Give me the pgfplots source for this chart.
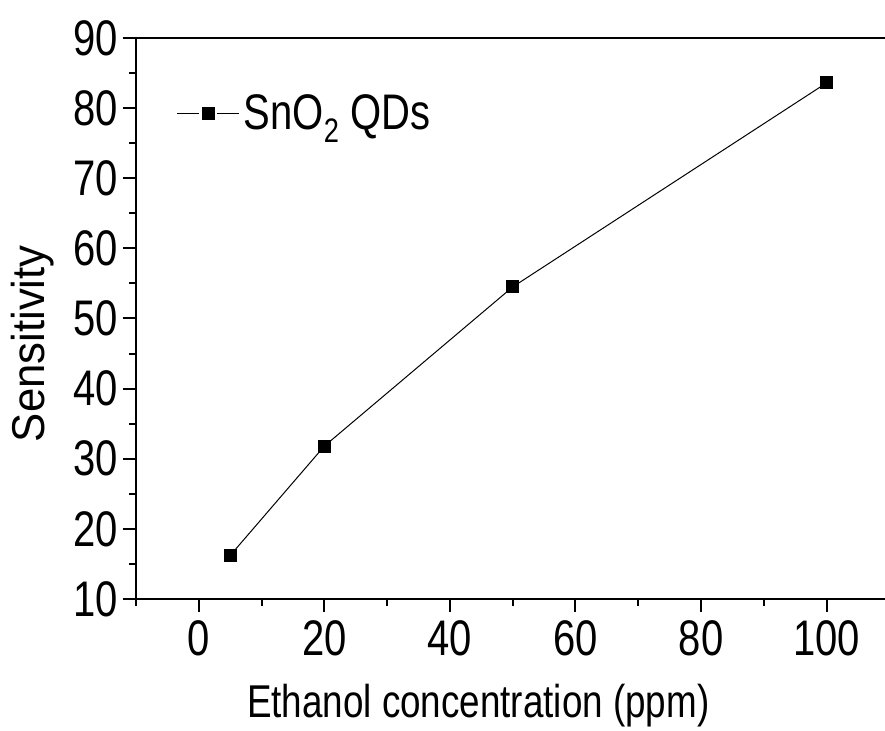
\documentclass[border=0pt]{standalone}
\usepackage{fontspec}
\setmainfont{Liberation Sans}[FakeStretch=0.8]
\newfontfamily\yfont{Liberation Sans}[FakeStretch=0.95]
\usepackage{pgfplots}
\pgfplotsset{compat=1.18}
\newcommand\bigfont{\fontsize{25}{29}\selectfont}
\begin{document}
\begin{tikzpicture}
\begin{axis}[
  clip mode=individual,
  scale only axis, width=374.5pt, height=280.5pt,
  xmin=-10, xmax=109.3, ymin=10, ymax=90,
  axis x line=box, axis y line=left,
  axis line style={-, line width=1pt},
  xtick={0,20,...,100}, ytick={10,20,...,90},
  minor xtick={-10,10,30,50,70,90},
  minor ytick={15,25,...,85},
  tick align=outside, xtick pos=left, ytick pos=left,
  major tick length=6.5pt, minor tick length=3.5pt,
  every tick/.style={black, line width=1pt},
  tick label style={font=\bigfont},
  /pgf/number format/assume math mode=true,
  yticklabel style={inner sep=2.5pt},
  xticklabel style={inner sep=4pt},
  legend style={draw=none, fill=none, font=\bigfont,
    at={(rel axis cs:0.054,0.866)}, anchor=west, inner sep=0pt,
    /tikz/every even column/.append style={column sep=2pt}},
  legend cell align=left,
  legend image code/.code={%
    \draw[#1] (0pt,0pt) -- (11pt,0pt);
    \draw[#1] (20pt,0pt) -- (31pt,0pt);
    \draw[#1, only marks] plot coordinates {(15.5pt,0pt)};},
]
\addplot[black, line width=0.5pt, mark=square*, mark size=3pt, mark options={solid}]
  coordinates {(5,16.2) (20,31.8) (50,54.5) (100,83.6)};
\addlegendentry{SnO\raisebox{-0.5ex}{\fontsize{17}{19}\selectfont 2} QDs}
\coordinate (LL) at (rel axis cs:0,0);
\coordinate (UR) at (rel axis cs:1,1);
\node[rotate=90, anchor=base, font=\yfont\fontsize{23}{27}\selectfont] at ([xshift=-45.5pt]rel axis cs:0,0.455) {Sensitivity};
\node[anchor=base, font=\fontsize{23}{27}\selectfont] at ([yshift=-59.5pt]rel axis cs:0.457,0) {Ethanol concentration (ppm)};
\end{axis}
\pgfresetboundingbox
\path[use as bounding box] ([shift={(-68pt,-66pt)}]LL) rectangle ([shift={(0pt,19pt)}]UR);
\end{tikzpicture}
\end{document}
